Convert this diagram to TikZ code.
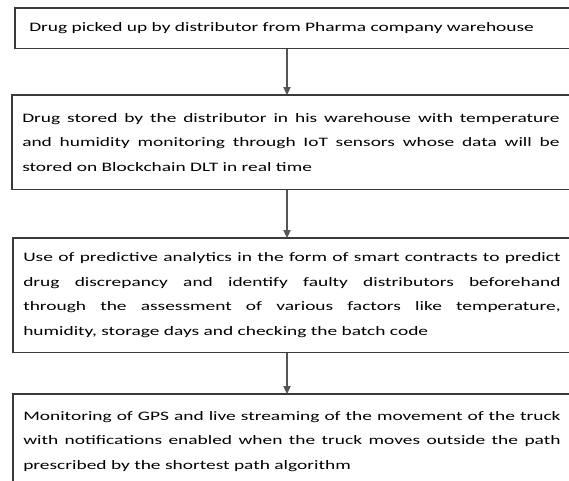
\documentclass[tikz,border=0pt]{standalone}
\usepackage{fontspec}
\setmainfont{Carlito}[FakeStretch=1.5]
\usetikzlibrary{arrows.meta}

\definecolor{boxgray}{HTML}{3A3A3A}
\definecolor{arrowgray}{HTML}{555555}

\begin{document}
\begin{tikzpicture}[x=0.75pt, y=-0.75pt,
  stepbox/.style={rectangle, anchor=north west, text width=403pt, inner xsep=7.5pt, inner ysep=0pt, align=justify, font=\fontsize{9.7}{18.4}\selectfont},
  frame/.style={draw=boxgray, line width=0.8pt},
  flow/.style={draw=arrowgray, line width=0.8pt, -{Triangle[width=5.5pt,length=6pt]}}]

\useasboundingbox (0,0) rectangle (569,480);
\clip (0,0) rectangle (569,480);

\node[stepbox, minimum height=30pt, inner xsep=10.5pt] (pickup) at (15,8) {Drug picked up by distributor from Pharma company warehouse};
\node[stepbox, minimum height=70.5pt] (storage) at (12,95) {Drug stored by the distributor in his warehouse with temperature\linebreak and humidity monitoring through IoT sensors whose data will be\linebreak stored on Blockchain DLT in real time};
\node[stepbox, minimum height=85.5pt] (analytics) at (13,238) {Use of predictive analytics in the form of smart contracts to predict\linebreak drug discrepancy and identify faulty distributors beforehand\linebreak through the assessment of various factors like temperature,\linebreak humidity, storage days and checking the batch code};
\node[stepbox, minimum height=70.5pt] (gps) at (13,394) {Monitoring of GPS and live streaming of the movement of the truck\linebreak with notifications enabled when the truck moves outside the path\linebreak prescribed by the shortest path algorithm};

% cornici (il bordo destro esce dal disegno)
\foreach \b in {pickup, storage, analytics, gps}
  \draw[frame] (\b.north west) rectangle ([xshift=30pt]\b.south east);

\coordinate (mid) at (287,0);

% Frecce
\draw[flow] (pickup.south -| mid) -- (storage.north -| mid);
\draw[flow] (storage.south -| mid) -- (analytics.north -| mid);
\draw[flow] (analytics.south -| mid) -- (gps.north -| mid);

\end{tikzpicture}
\end{document}
